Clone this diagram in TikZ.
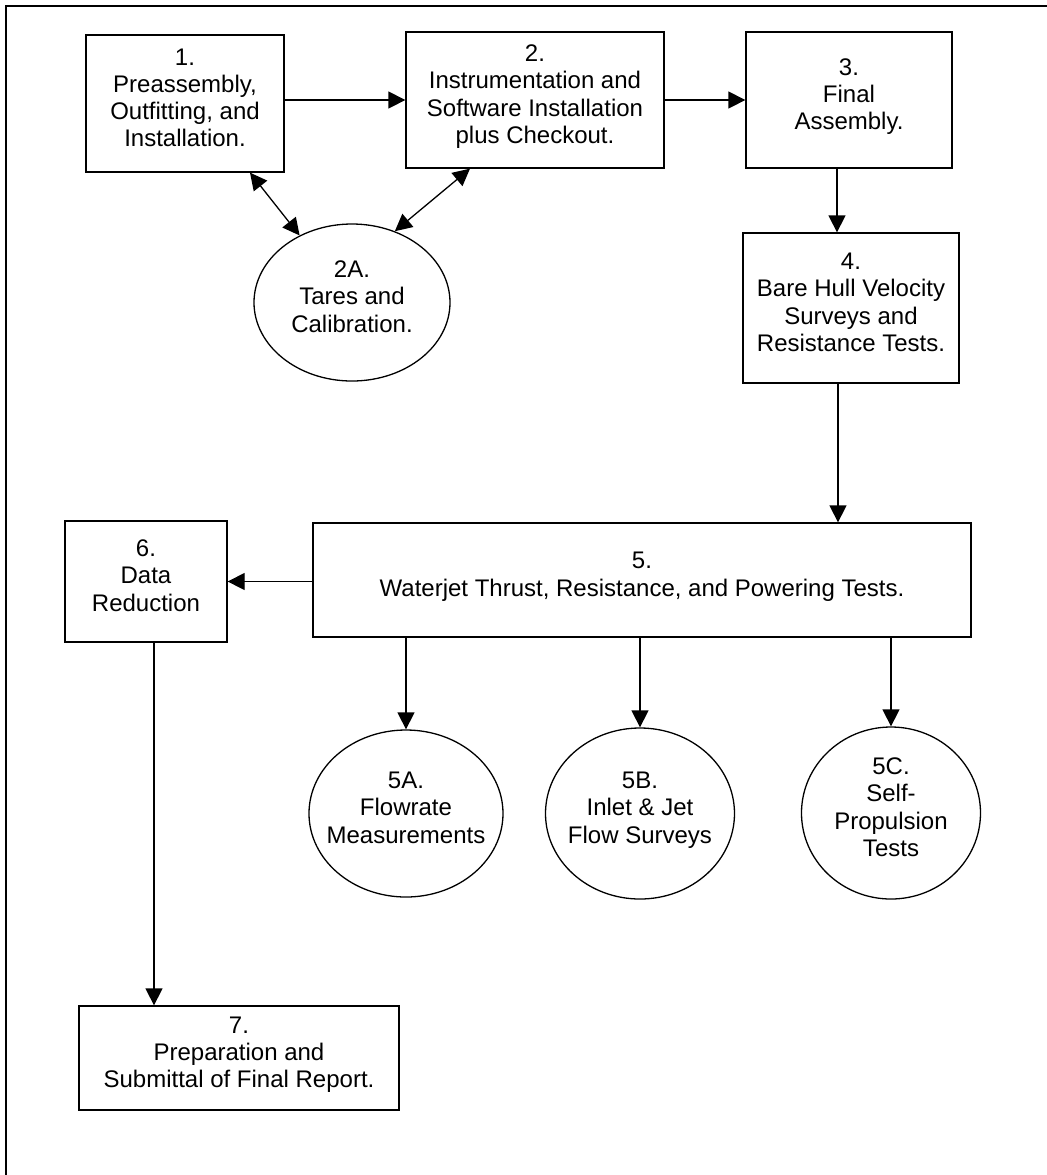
\documentclass[tikz,border=0pt]{standalone}
\usepackage{fontspec}
\setmainfont{Liberation Sans}
\usetikzlibrary{arrows.meta,shapes.geometric}

\newcommand{\steptext}[1]{\makebox[0pt]{\begin{tabular}{@{}c@{}}#1\end{tabular}}}

\begin{document}
\begin{tikzpicture}[x=0.5pt,y=-0.5pt,line width=0.65pt,
                    >={Triangle[length=8.5pt,width=8.5pt]},
                    every node/.style={font=\fontsize{12}{13.6}\selectfont,
                                       inner sep=0pt,text height=3pt,text depth=0pt},
                    box node/.style={rectangle,draw},
                    oval node/.style={ellipse,draw}]

  \useasboundingbox (0,0) rectangle (1047,1175);
  \draw[line width=1pt] (1047,6) -- (6,6) -- (6,1175);

  \node[box node,minimum width=99pt,minimum height=68.5pt] (1) at (185,103.5)
    {\steptext{1.\\Preassembly,\\Outfitting, and\\Installation.}};
  \node[box node,minimum width=129pt,minimum height=68pt] (2) at (535,100)
    {\steptext{2.\\Instrumentation and\\Software Installation\\plus Checkout.}};
  \node[box node,minimum width=103pt,minimum height=68pt] (3) at (849,100)
    {\steptext{3.\\Final\\Assembly.}};
  \node[box node,minimum width=108pt,minimum height=75pt] (4) at (851,308)
    {\steptext{4.\\Bare Hull Velocity\\Surveys and\\Resistance Tests.}};
  \node[oval node,minimum width=98pt,minimum height=78.5pt] (2A) at (352,302.5)
    {\steptext{2A.\\Tares and\\Calibration.}};
  \node[box node,minimum width=329pt,minimum height=57pt] (5) at (642,580)
    {\steptext{5.\\Waterjet Thrust, Resistance, and Powering Tests.}};
  \node[box node,minimum width=81pt,minimum height=60.5pt] (6) at (146,581.5)
    {\steptext{6.\\Data\\Reduction}};
  \node[oval node,minimum width=97pt,minimum height=83.5pt] (5A) at (406,813.5)
    {\steptext{5A.\\Flowrate\\Measurements}};
  \node[oval node,minimum width=94.5pt,minimum height=85.5pt] (5B) at (640,813.5)
    {\steptext{5B.\\Inlet \& Jet\\Flow Surveys}};
  \node[oval node,minimum width=89.5pt,minimum height=86pt] (5C) at (891,813)
    {\steptext{5C.\\Self-\\Propulsion\\Tests}};
  \node[box node,minimum width=160pt,minimum height=52pt] (7) at (239,1058)
    {\steptext{7.\\Preparation and\\Submittal of Final Report.}};

  \coordinate (3s) at ([xshift=-6pt]3.south);
  \coordinate (4s) at ([xshift=-6.5pt]4.south);
  \coordinate (6s) at ([xshift=4pt]6.south);

  \path[->]
    (1.east |- 2) edge (2)
    (2) edge (3)
    (3s) edge (3s |- 4.north)
    (4s) edge (4s |- 5.north)
    (5.west |- 6) edge (6)
    (5A |- 5.south) edge (5A)
    (5B |- 5.south) edge (5B)
    (5C |- 5.south) edge (5C)
    (6s) edge (6s |- 7.north);
  \path[<->]
    ([xshift=32.5pt]1.south) edge (2A.128)
    ([xshift=-32.5pt]2.south) edge (2A.59);
\end{tikzpicture}
\end{document}
